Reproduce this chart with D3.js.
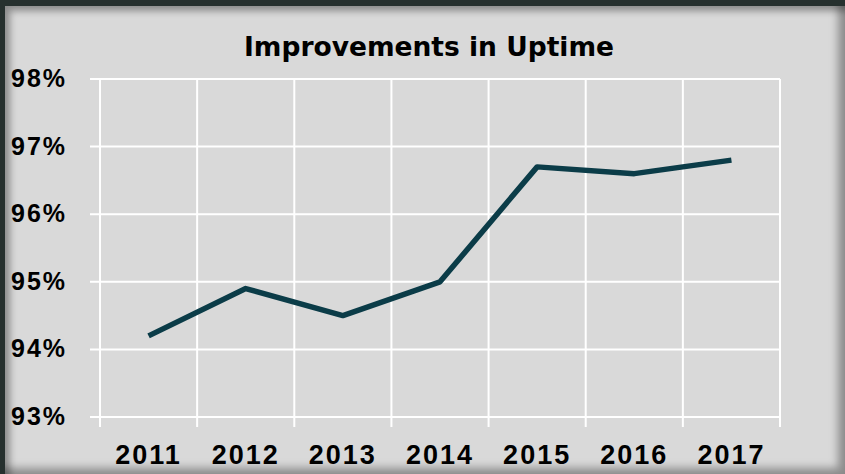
<!DOCTYPE html>
<html>
  <head>
    <meta charset="UTF-8">
    <style>
      body {
        margin: 0;
        background-color: #26302e;
        font-family: "DejaVu Sans", sans-serif;
      }

      .panel {
        position: absolute;
        left: 5px;
        top: 6px;
        width: 840px;
        height: 468px;
        background-color: #d9d9d9;
        box-shadow: inset -7px -6px 8px rgba(0, 0, 0, 0.35), inset 5px 5px 7px rgba(0, 0, 0, 0.35);
      }

      svg {
        position: absolute;
        left: 0;
        top: 0;
      }

      .tick text {
        font-weight: bold;
        fill: #000;
      }
    </style>
    <script src="https://d3js.org/d3.v7.min.js"></script>
  </head>

  <body>
    <div class="panel"></div>
    <svg id="chart"></svg>

    <script type="text/javascript">
      let years = ['2011', '2012', '2013', '2014', '2015', '2016', '2017']
      let uptime = [94.2, 94.9, 94.5, 95.0, 96.7, 96.6, 96.8]
      let yTicks = [93, 94, 95, 96, 97, 98]
      let title = 'Improvements in Uptime'

      let width = 845
      let height = 474
      let margin = {top: 79, bottom: 57, left: 100, right: 65}

      let bodyWidth = width - margin.left - margin.right
      let bodyHeight = height - margin.top - margin.bottom

      let svg = d3.select('#chart')
        .attr('width', width)
        .attr('height', height)

      let xScale = d3.scaleBand()
        .domain(years)
        .range([0, bodyWidth])

      let yScale = d3.scaleLinear()
        .domain([93, 98])
        .range([bodyHeight, 0])

      let body = svg.append('g')
        .attr('transform', `translate(${margin.left}, ${margin.top})`)

      // horizontal grid lines, reaching a bit left of the plot
      body.selectAll('.hgrid')
        .data(yTicks)
        .enter().append('line')
        .attr('x1', -10)
        .attr('x2', bodyWidth)
        .attr('y1', d => yScale(d))
        .attr('y2', d => yScale(d))
        .attr('stroke', '#fff')
        .attr('stroke-width', 2)

      // vertical grid lines at band boundaries, with ticks below
      let bounds = years.map(d => xScale(d)).concat([bodyWidth])
      body.selectAll('.vgrid')
        .data(bounds)
        .enter().append('line')
        .attr('x1', d => d)
        .attr('x2', d => d)
        .attr('y1', 0)
        .attr('y2', bodyHeight + 10)
        .attr('stroke', '#fff')
        .attr('stroke-width', 2)

      let axisY = d3.axisLeft(yScale)
        .tickValues(yTicks)
        .tickSize(0)
        .tickFormat(d => d + '%')

      body.append('g')
        .call(axisY)
        .call(g => g.select('.domain').remove())
        .selectAll('text')
        .attr('text-anchor', 'start')
        .attr('x', -89)
        .attr('dy', '0.3em')
        .style('font-size', '25px')
        .style('letter-spacing', '2px')

      let axisX = d3.axisBottom(xScale)
        .tickSize(0)

      body.append('g')
        .attr('transform', `translate(0, ${bodyHeight})`)
        .call(axisX)
        .call(g => g.select('.domain').remove())
        .selectAll('text')
        .attr('y', 28)
        .attr('dy', '0.71em')
        .style('font-size', '27px')
        .style('letter-spacing', '2px')

      let line = d3.line()
        .x((d, i) => xScale(years[i]) + xScale.bandwidth() / 2)
        .y(d => yScale(d))

      body.append('path')
        .datum(uptime)
        .attr('d', line)
        .attr('fill', 'none')
        .attr('stroke', '#0b3c48')
        .attr('stroke-width', 5.5)
        .attr('stroke-linejoin', 'round')

      svg.append('text')
        .attr('x', 429)
        .attr('y', 56)
        .attr('text-anchor', 'middle')
        .style('font-size', '26.5px')
        .style('font-weight', 'bold')
        .text(title)
    </script>
  </body>
</html>
